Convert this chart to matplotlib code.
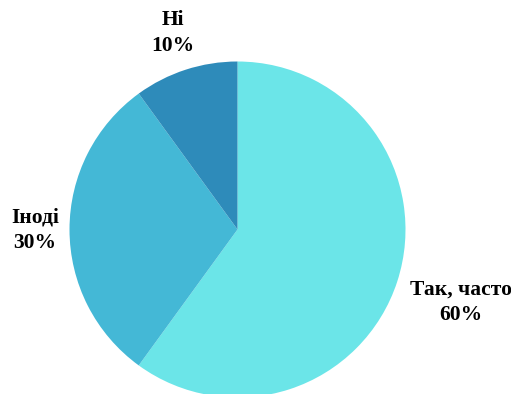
import matplotlib.pyplot as plt

# survey answers and their shares
labels = ["Так, часто", "Іноді", "Ні"]
shares = [60, 30, 10]
colors = ["#6be5e8", "#44b8d6", "#2e8bba"]

# where each label sits (pixel coords, origin top-left)
label_pos = [(461, 302), (35, 230), (173, 33)]

W, H = 511, 394
fig = plt.figure(figsize=(W / 100, H / 100), dpi=100)
ax = fig.add_axes([0, 0, 1, 1])

ax.pie(shares, colors=colors, startangle=90, counterclock=False,
       center=(237.5, H - 229.5), radius=168,
       wedgeprops=dict(linewidth=0))

# pie() resets the view, so fix the limits afterwards
ax.set_xlim(0, W)
ax.set_ylim(0, H)
ax.set_aspect("equal")
ax.axis("off")

for lab, val, (x, y) in zip(labels, shares, label_pos):
    ax.text(x, H - y, f"{lab}\n{val}%", ha="center", va="center",
            fontsize=15.5, fontweight="bold", family="Liberation Serif",
            linespacing=1.38, color="black")

fig.savefig("out.png", dpi=100)
